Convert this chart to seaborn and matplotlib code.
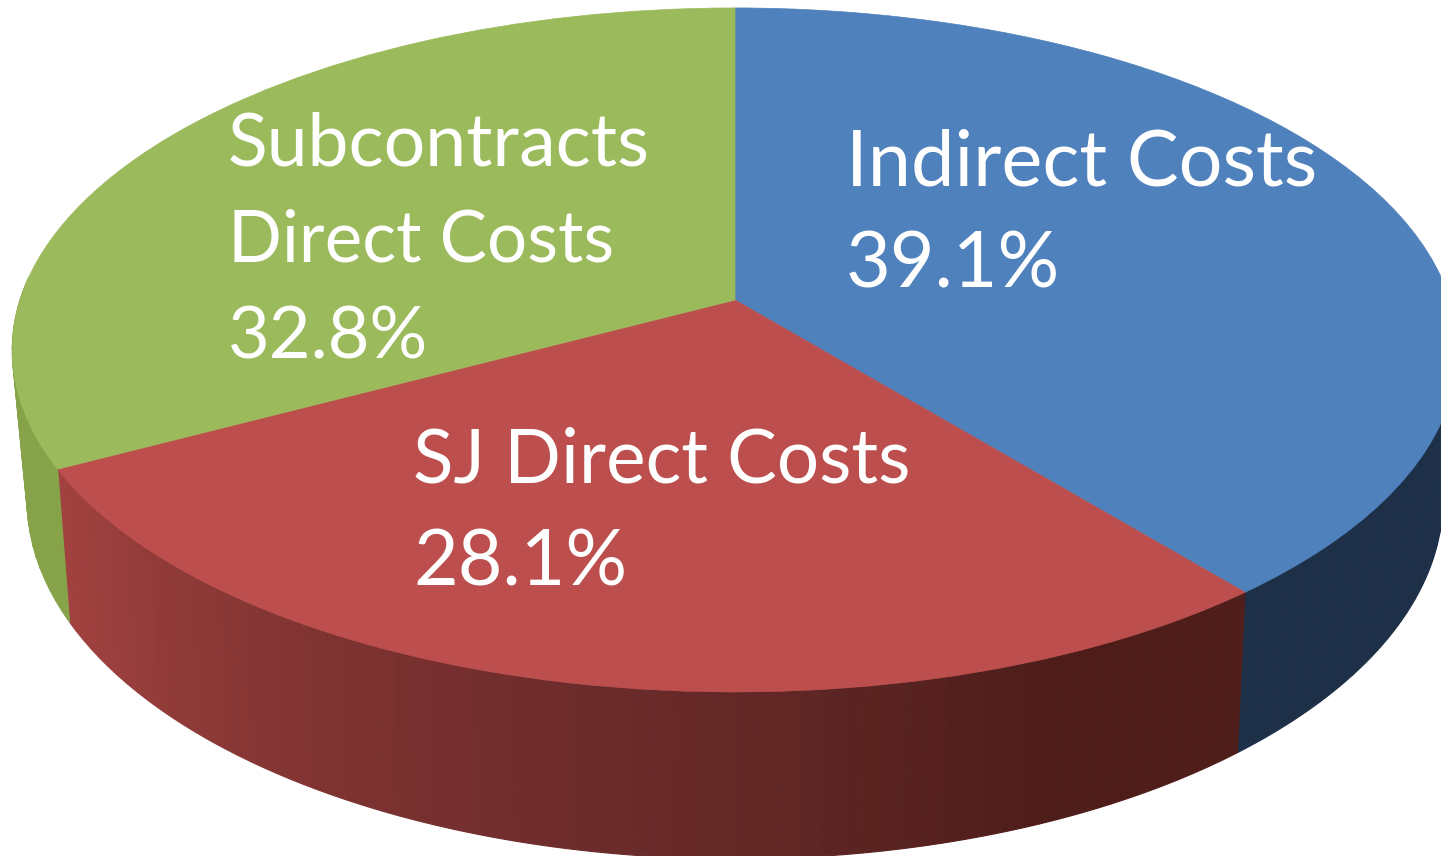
import numpy as np
import matplotlib
matplotlib.use("Agg")
import matplotlib.pyplot as plt
from matplotlib.transforms import Transform
import seaborn as sns

# slices, clockwise from the top
names = ["Indirect Costs", "SJ Direct Costs", "Subcontracts\nDirect Costs"]
shares = [39.1, 28.1, 32.8]
top_colors = ["#4F81BC", "#BC4F4D", "#9BBA5B"]
# wall shades in clockwise order, so the red one runs from its dark right end to the left
wall_colors = [["#1E3048", "#1E3048"],
               ["#4F1E1B", "#4E1D1A", "#5E2624", "#6E2C2C", "#7C3230", "#8F3A38", "#A24240"],
               ["#86A34A", "#86A34A"]]

sns.set_theme(style="white")
plt.rcParams["font.family"] = ["Lato", "DejaVu Sans"]


# the pie is tilted towards the viewer, so the unit disc goes through a perspective map
class Tilt(Transform):
    input_dims = 2
    output_dims = 2

    def __init__(self, xc, yc, a, b, k):
        super().__init__()
        self.xc, self.yc, self.a, self.b, self.k = xc, yc, a, b, k

    def transform_non_affine(self, values):
        values = np.asarray(values)
        d = 1 + self.k * values[:, 1]
        return np.column_stack([self.xc + self.a * values[:, 0] / d,
                                self.yc - self.b * values[:, 1] / d])


top = Tilt(735, 300, 715, 334.7, 0.146)
bottom = Tilt(735, 444, 699.5, 351, 0.154)

fig, ax = plt.subplots(figsize=(14.41, 8.56), dpi=100)
fig.subplots_adjust(0, 0, 1, 1)

wedges, _ = ax.pie(shares, colors=top_colors, startangle=90, counterclock=False)
ax.set_aspect("auto")
ax.set_xlim(0, 1441)
ax.set_ylim(856, 0)
ax.axis("off")


def wall(t0, t1, color, z):
    t = np.radians(np.linspace(t0, t1, 4))
    disc = np.column_stack([np.sin(t), np.cos(t)])
    outline = np.vstack([top.transform(disc), bottom.transform(disc)[::-1]])
    ax.fill(outline[:, 0], outline[:, 1], color=color, lw=0.8, zorder=z)


# side walls go under the top faces, in narrow steps so the outline sweeps round properly
edges = np.cumsum([0] + shares) * 3.6
for i in range(len(shares)):
    steps = 70
    pal = sns.blend_palette(wall_colors[i], steps)
    cuts = np.linspace(edges[i], edges[i + 1], steps + 1)
    for j in range(steps):
        # the back of the rim is hidden, and would only show as a dark hairline
        if np.cos(np.radians(cuts[j])) < 0.05:
            wall(cuts[j], cuts[j + 1], pal[j], 1)

for w in wedges:
    w.set_transform(top + ax.transData)
    w.set_zorder(2)
    w.set_edgecolor(w.get_facecolor())
    w.set_linewidth(0.5)

# one text per line, left aligned like the data labels
label_lines = [names[0], f"{shares[0]}%"], [names[1], f"{shares[1]}%"], names[2].split("\n") + [f"{shares[2]}%"]
label_x = [846, 413, 228]
label_y = [[185, 287], [482, 585], [165, 262, 358]]
label_size = [[55.8, 55.5], [53.7, 55.5], [52.8, 51, 52]]
for lines, x, ys, sizes in zip(label_lines, label_x, label_y, label_size):
    for line, y, size in zip(lines, ys, sizes):
        ax.text(x, y, line, color="white", fontsize=size, ha="left", va="baseline", zorder=3)

plt.savefig("out.png", dpi=100)
